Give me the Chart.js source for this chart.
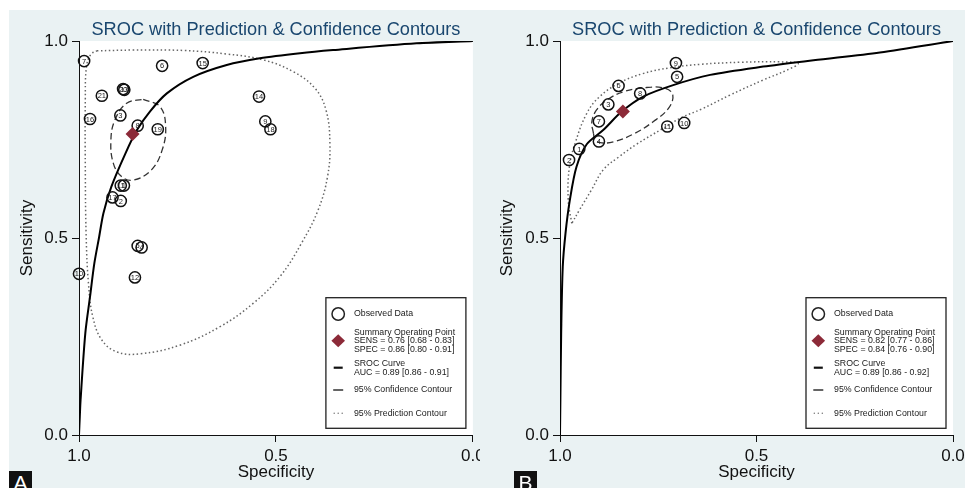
<!DOCTYPE html>
<html>
<head>
<meta charset="utf-8">
<title>SROC with Prediction & Confidence Contours</title>
<script src="https://cdn.jsdelivr.net/npm/chart.js@4.4.1/dist/chart.umd.min.js"></script>
<style>
    html, body { margin: 0; padding: 0; background: #fff; }
    body { width: 965px; height: 488px; position: relative; overflow: hidden; }
    #bg { position: absolute; left: 9px; top: 10px; width: 956px; height: 478px; background: #eaf2f3; }
    .panel { position: absolute; top: 0; height: 488px; }
    #boxA { left: 0; width: 480px; }
    #boxB { left: 480px; width: 485px; }
    .tag { position: absolute; top: 471px; width: 23px; height: 17px; overflow: hidden; background: #111; color: #fff;
           font: 21px 'Liberation Sans', Arial, sans-serif; line-height: 23px; text-align: center; }
</style>
</head>
<body>
<div id="bg"></div>
<div class="panel" id="boxA"><canvas id="chartA" width="480" height="488"></canvas></div>
<div class="panel" id="boxB"><canvas id="chartB" width="485" height="488"></canvas></div>
<div class="tag" style="left:9px">A</div>
<div class="tag" style="left:514px">B</div>
<script>
// ---- panel A ----
var studyA = [1, 2, 3, 4, 5, 6, 7, 8, 9, 10, 11, 12, 13, 14, 15, 16, 17, 18, 19, 20, 21];
var specA  = [0.886, 0.894, 0.895, 0.841, 0.851, 0.789, 0.987, 0.851, 0.527, 1.000, 0.894, 0.858, 0.885, 0.543, 0.686, 0.972, 0.915, 0.514, 0.800, 0.888, 0.942];
var sensA  = [0.633, 0.594, 0.811, 0.476, 0.480, 0.937, 0.949, 0.785, 0.796, 0.409, 0.633, 0.400, 0.876, 0.859, 0.944, 0.802, 0.603, 0.776, 0.776, 0.878, 0.861];
var sumSpecA = [0.864];
var sumSensA = [0.764];
var srocSpecA = [1.000, 0.998, 0.996, 0.984, 0.972, 0.961, 0.949, 0.938, 0.918, 0.882, 0.853, 0.820, 0.777, 0.710, 0.625, 0.541, 0.439, 0.355, 0.143, 0.000];
var srocSensA = [0.000, 0.046, 0.089, 0.258, 0.351, 0.436, 0.502, 0.563, 0.630, 0.715, 0.774, 0.821, 0.867, 0.909, 0.939, 0.956, 0.969, 0.977, 0.994, 1.000];
var confSpecA = [0.837, 0.794, 0.780, 0.789, 0.816, 0.862, 0.892, 0.913, 0.919, 0.909, 0.879];
var confSensA = [0.852, 0.833, 0.782, 0.723, 0.673, 0.647, 0.656, 0.690, 0.749, 0.799, 0.842];
var predSpecA = [0.955, 0.862, 0.735, 0.625, 0.532, 0.456, 0.401, 0.373, 0.363, 0.369, 0.393, 0.435, 0.490, 0.558, 0.642, 0.744, 0.845, 0.904, 0.942, 0.965, 0.976, 0.982, 0.984, 0.984, 0.981, 0.970];
var predSensA = [0.975, 0.977, 0.976, 0.967, 0.952, 0.922, 0.880, 0.825, 0.740, 0.656, 0.571, 0.487, 0.402, 0.334, 0.275, 0.228, 0.206, 0.211, 0.241, 0.300, 0.385, 0.512, 0.681, 0.850, 0.935, 0.966];
var legendA = ['Observed Data', 'Summary Operating Point', 'SENS = 0.76 [0.68 - 0.83]', 'SPEC = 0.86 [0.80 - 0.91]',
               'SROC Curve', 'AUC = 0.89 [0.86 - 0.91]', '95% Confidence Contour', '95% Prediction Contour'];

// ---- panel B ----
var studyB = [1, 2, 3, 4, 5, 6, 7, 8, 9, 10, 11];
var specB  = [0.951, 0.977, 0.877, 0.901, 0.702, 0.851, 0.901, 0.796, 0.705, 0.684, 0.727];
var sensB  = [0.726, 0.698, 0.839, 0.745, 0.909, 0.886, 0.796, 0.867, 0.944, 0.792, 0.783];
var sumSpecB = [0.840];
var sumSensB = [0.821];
var srocSpecB = [1.000, 0.999, 0.997, 0.993, 0.986, 0.975, 0.958, 0.932, 0.890, 0.843, 0.788, 0.712, 0.618, 0.483, 0.355, 0.186, 0.000];
var srocSensB = [0.000, 0.089, 0.258, 0.427, 0.512, 0.596, 0.681, 0.738, 0.774, 0.821, 0.859, 0.888, 0.914, 0.935, 0.951, 0.971, 1.000];
var confSpecB = [0.915, 0.919, 0.907, 0.881, 0.839, 0.779, 0.733, 0.713, 0.724, 0.763, 0.813, 0.864, 0.898, 0.911];
var confSensB = [0.766, 0.795, 0.825, 0.850, 0.871, 0.882, 0.880, 0.863, 0.829, 0.795, 0.764, 0.744, 0.742, 0.750];
var predSpecB = [0.970, 0.979, 0.976, 0.960, 0.932, 0.900, 0.850, 0.790, 0.720, 0.640, 0.540, 0.440, 0.394,
                 0.423, 0.483, 0.567, 0.640, 0.690, 0.740, 0.805, 0.850, 0.890, 0.920, 0.950];
var predSensB = [0.537, 0.596, 0.681, 0.745, 0.816, 0.858, 0.893, 0.917, 0.932, 0.941, 0.946, 0.947, 0.943,
                 0.926, 0.901, 0.863, 0.827, 0.806, 0.777, 0.738, 0.706, 0.673, 0.622, 0.572];
var legendB = ['Observed Data', 'Summary Operating Point', 'SENS = 0.82 [0.77 - 0.86]', 'SPEC = 0.84 [0.76 - 0.90]',
               'SROC Curve', 'AUC = 0.89 [0.86 - 0.92]', '95% Confidence Contour', '95% Prediction Contour'];

var titleText = 'SROC with Prediction & Confidence Contours';
var FONT = "'Liberation Sans', Arial, Helvetica, sans-serif";

Chart.defaults.font.family = FONT;
Chart.defaults.color = '#111';

function pairs(xs, ys) {
    return xs.map(function(x, i) { return {x: x, y: ys[i]}; });
}
function closed(pts) {
    return pts.concat([pts[0]]);
}

// background of plot region, study numbers, title and the boxed legend
function makeDecor(ids, legend) {
    return {
        id: 'decor',
        beforeDraw: function(chart) {
            var a = chart.chartArea, ctx = chart.ctx;
            ctx.save();
            ctx.fillStyle = '#fff';
            ctx.fillRect(a.left, a.top, a.right - a.left, a.bottom - a.top);
            ctx.restore();
        },
        afterDatasetsDraw: function(chart) {
            var ctx = chart.ctx;
            var meta = chart.getDatasetMeta(0);
            ctx.save();
            ctx.font = '7.5px ' + FONT;
            ctx.fillStyle = '#222';
            ctx.textAlign = 'center';
            ctx.textBaseline = 'middle';
            meta.data.forEach(function(pt, i) {
                ctx.fillText(String(ids[i]), pt.x, pt.y + 0.5);
            });
            ctx.restore();
        },
        afterDraw: function(chart) {
            var a = chart.chartArea, ctx = chart.ctx;
            ctx.save();
            // title
            ctx.font = '18.2px ' + FONT;
            ctx.fillStyle = '#1a476f';
            ctx.textAlign = 'center';
            ctx.textBaseline = 'alphabetic';
            ctx.fillText(titleText, (a.left + a.right) / 2, 35);

            // legend box
            var bx = a.right - 147, by = a.bottom - 137.3;
            ctx.fillStyle = '#fff';
            ctx.fillRect(bx, by, 140, 130.6);
            ctx.strokeStyle = '#222';
            ctx.lineWidth = 1.3;
            ctx.strokeRect(bx, by, 140, 130.6);

            var sx = bx + 12.3, tx = bx + 28;
            ctx.lineWidth = 1.5;
            ctx.beginPath();
            ctx.arc(sx, by + 16.3, 6.2, 0, Math.PI * 2);
            ctx.stroke();

            ctx.fillStyle = '#8c2a38';
            ctx.beginPath();
            ctx.moveTo(sx, by + 36.5);
            ctx.lineTo(sx + 6.8, by + 43);
            ctx.lineTo(sx, by + 49.5);
            ctx.lineTo(sx - 6.8, by + 43);
            ctx.closePath();
            ctx.fill();

            ctx.strokeStyle = '#111';
            ctx.lineWidth = 2.2;
            ctx.beginPath();
            ctx.moveTo(sx - 4.5, by + 70);
            ctx.lineTo(sx + 4.5, by + 70);
            ctx.stroke();

            ctx.lineWidth = 1.3;
            ctx.beginPath();
            ctx.moveTo(sx - 5, by + 92.3);
            ctx.lineTo(sx + 5, by + 92.3);
            ctx.stroke();

            ctx.fillStyle = '#777';
            [-4, 0, 4].forEach(function(d) {
                ctx.beginPath();
                ctx.arc(sx + d, by + 115.6, 0.75, 0, Math.PI * 2);
                ctx.fill();
            });

            ctx.font = '8.8px ' + FONT;
            ctx.fillStyle = '#1a1a1a';
            ctx.textAlign = 'left';
            ctx.textBaseline = 'middle';
            var rows = [16.3, 34.6, 43.3, 52, 65.6, 74.6, 92.3, 115.6];
            legend.forEach(function(txt, i) {
                ctx.fillText(txt, tx, by + rows[i]);
            });
            ctx.restore();
        }
    };
}

function makeChart(canvasId, axisW, rightPad, d) {
    var axisGrid = { drawOnChartArea: false, drawTicks: true, tickLength: 7, color: '#111', lineWidth: 1 };
    return new Chart(document.getElementById(canvasId), {
        type: 'scatter',
        data: {
            datasets: [{
                data: pairs(d.spec, d.sens),
                pointRadius: 5.6,
                pointBorderWidth: 1.5,
                borderColor: '#111',
                pointBorderColor: '#111',
                pointBackgroundColor: 'rgba(0,0,0,0)',
                clip: false,
                order: 1
            }, {
                data: pairs(d.sumSpec, d.sumSens),
                pointStyle: 'rectRot',
                pointRadius: 7,
                pointBorderWidth: 0,
                borderColor: '#8c2a38',
                pointBackgroundColor: '#8c2a38',
                order: 0
            }, {
                data: pairs(d.srocSpec, d.srocSens),
                showLine: true,
                pointRadius: 0,
                borderColor: '#000',
                borderWidth: 2,
                tension: 0.3,
                order: 2
            }, {
                data: closed(pairs(d.confSpec, d.confSens)),
                showLine: true,
                pointRadius: 0,
                borderColor: '#333',
                borderWidth: 1.3,
                borderDash: [6.5, 3.5],
                tension: 0.4,
                order: 3
            }, {
                data: closed(pairs(d.predSpec, d.predSens)),
                showLine: true,
                pointRadius: 0,
                borderColor: '#666',
                borderWidth: 1.5,
                borderDash: [1.5, 2.5],
                tension: 0.4,
                order: 4
            }]
        },
        options: {
            responsive: false,
            animation: false,
            events: [],
            layout: { padding: { top: 41, right: rightPad, bottom: 0, left: 0 } },
            plugins: { legend: { display: false }, tooltip: { enabled: false } },
            scales: {
                x: {
                    type: 'linear', reverse: true, min: 0, max: 1,
                    afterFit: function(s) { s.height = 53; s.paddingLeft = 0; s.paddingRight = 0; },
                    ticks: { stepSize: 0.5, padding: 4, maxRotation: 0, font: { size: 17 },
                             callback: function(v) { return v.toFixed(1); } },
                    grid: axisGrid,
                    border: { display: true, color: '#111', width: 1 },
                    title: { display: true, text: 'Specificity', font: { size: 17 }, padding: { top: 0, bottom: 5 } }
                },
                y: {
                    type: 'linear', min: 0, max: 1,
                    afterFit: function(s) { s.width = axisW; s.paddingTop = 0; s.paddingBottom = 0; },
                    ticks: { stepSize: 0.5, padding: 4, font: { size: 17 },
                             callback: function(v) { return v.toFixed(1); } },
                    grid: axisGrid,
                    border: { display: true, color: '#111', width: 1 },
                    title: { display: true, text: 'Sensitivity', font: { size: 17 }, padding: { top: 17, bottom: 0 } }
                }
            }
        },
        plugins: [makeDecor(d.ids, d.legend)]
    });
}

var chartA = makeChart('chartA', 79, 7, {
    ids: studyA, spec: specA, sens: sensA, sumSpec: sumSpecA, sumSens: sumSensA,
    srocSpec: srocSpecA, srocSens: srocSensA, confSpec: confSpecA, confSens: confSensA,
    predSpec: predSpecA, predSens: predSensA, legend: legendA
});
var chartB = makeChart('chartB', 80, 12, {
    ids: studyB, spec: specB, sens: sensB, sumSpec: sumSpecB, sumSens: sumSensB,
    srocSpec: srocSpecB, srocSens: srocSensB, confSpec: confSpecB, confSens: confSensB,
    predSpec: predSpecB, predSens: predSensB, legend: legendB
});
</script>
</body>
</html>
